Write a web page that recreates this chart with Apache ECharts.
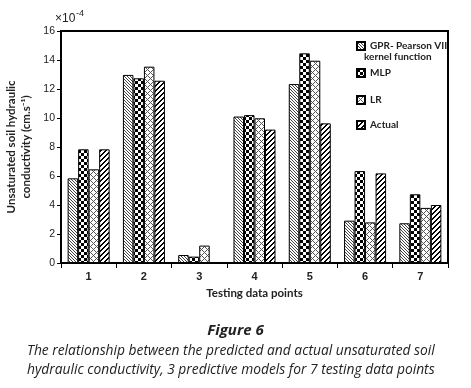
<!DOCTYPE html>
<html>
<head>
<meta charset="utf-8">
<script src="https://cdn.jsdelivr.net/npm/echarts@6/dist/echarts.min.js"></script>
<style>
  html, body { margin: 0; padding: 0; background: #fff; }
  #myChart { width: 471px; height: 388px; }
</style>
</head>
<body>
<div id="myChart"></div>
<script>
  // data (values x 10^-4 cm/s)
  var categories = ['1', '2', '3', '4', '5', '6', '7']
  var seriesNames = ['GPR- Pearson VII', 'MLP', 'LR', 'Actual']
  var gprValues = [5.84, 12.97, 0.55, 10.1, 12.34, 2.92, 2.74]
  var mlpValues = [7.84, 12.74, 0.44, 10.2, 14.46, 6.34, 4.74]
  var lrValues = [6.46, 13.54, 1.2, 9.98, 13.95, 2.8, 3.8]
  var actualValues = [7.84, 12.57, 0, 9.2, 9.63, 6.18, 4.0]
  var yTicks = [0, 2, 4, 6, 8, 10, 12, 14, 16]

  // small canvas tiles used as hatch fills
  function makeTile(size, fg, test) {
    var c = document.createElement('canvas')
    c.width = size
    c.height = size
    var ctx = c.getContext('2d')
    ctx.fillStyle = '#fff'
    ctx.fillRect(0, 0, size, size)
    ctx.fillStyle = fg
    for (var x = 0; x < size; x++) {
      for (var y = 0; y < size; y++) {
        if (test(x, y)) ctx.fillRect(x, y, 1, 1)
      }
    }
    return { image: c, repeat: 'repeat' }
  }

  var gprFill = makeTile(3, '#444', function(x, y) { return (x - y + 3) % 3 === 0 })
  var mlpFill = makeTile(6, '#000', function(x, y) { return (Math.floor(x / 3) + Math.floor(y / 3)) % 2 === 0 })
  var lrFill = makeTile(6, '#555', function(x, y) { return (x + y) % 6 === 0 || (x - y + 6) % 6 === 0 })
  var actualFill = makeTile(5, '#000', function(x, y) { return (x + y) % 5 < 2 })

  var fills = [gprFill, mlpFill, lrFill, actualFill]
  var allValues = [gprValues, mlpValues, lrValues, actualValues]
  var legendTops = [36, 63, 90, 115]

  var myChart = echarts.init(document.getElementById('myChart'))

  var series = seriesNames.map(function(name, i) {
    return {
      name: name,
      type: 'bar',
      data: allValues[i],
      barGap: '0%',
      barCategoryGap: '24%',
      itemStyle: {
        color: fills[i],
        borderColor: '#000',
        borderWidth: 1
      }
    }
  })

  var legends = seriesNames.map(function(name, i) {
    return {
      data: [name],
      left: 351,
      top: legendTops[i],
      itemWidth: 8,
      itemHeight: 8,
      itemGap: 3,
      icon: 'rect',
      textStyle: {
        fontFamily: 'Lato',
        fontWeight: 'bold',
        fontSize: 10,
        color: '#222'
      }
    }
  })

  var option = {
    animation: false,
    title: [{
      text: 'Figure 6',
      left: 'center',
      top: 318,
      textStyle: {
        fontFamily: 'Open Sans',
        fontStyle: 'italic',
        fontWeight: 'bold',
        fontSize: 15,
        color: '#222'
      }
    }, {
      text: 'The relationship between the predicted and actual unsaturated soil\nhydraulic conductivity, 3 predictive models for 7 testing data points',
      left: 22,
      top: 337,
      textStyle: {
        fontFamily: 'Open Sans',
        fontStyle: 'italic',
        fontWeight: 'normal',
        fontSize: 13.8,
        lineHeight: 19,
        color: '#222'
      }
    }],
    legend: legends,
    graphic: [{
      type: 'text',
      left: 364,
      top: 52,
      style: {
        text: 'kernel function',
        font: 'bold 10px Lato',
        fill: '#222'
      }
    }, {
      type: 'text',
      left: 55,
      top: 13,
      style: {
        text: '×10',
        font: '12px "Liberation Sans"',
        fill: '#222'
      }
    }, {
      type: 'text',
      left: 76,
      top: 9,
      style: {
        text: '-4',
        font: '9px "Liberation Sans"',
        fill: '#222'
      }
    }],
    grid: {
      left: 61,
      right: 23,
      top: 31,
      bottom: 125,
      outerBoundsMode: 'none',
      show: true,
      borderColor: '#000',
      borderWidth: 2
    },
    xAxis: {
      type: 'category',
      data: categories,
      name: 'Testing data points',
      nameLocation: 'middle',
      nameGap: 24,
      nameTextStyle: {
        fontFamily: 'Lato',
        fontWeight: 'bold',
        fontSize: 11.5,
        color: '#222'
      },
      axisLine: { lineStyle: { color: '#000', width: 2 } },
      axisTick: { show: true, length: 5, lineStyle: { color: '#000' } },
      axisLabel: {
        margin: 8,
        fontFamily: 'Liberation Sans',
        fontWeight: 'bold',
        fontSize: 11,
        color: '#222'
      }
    },
    yAxis: {
      type: 'value',
      min: yTicks[0],
      max: yTicks[yTicks.length - 1],
      interval: 2,
      name: 'Unsaturated soil hydraulic\nconductivity (cm.s⁻¹)',
      nameLocation: 'middle',
      nameGap: 27,
      nameMoveOverlap: false,
      nameTextStyle: {
        fontFamily: 'Lato',
        fontWeight: 'bold',
        fontSize: 11.5,
        lineHeight: 15,
        color: '#222'
      },
      splitLine: { show: false },
      axisLine: { show: true, lineStyle: { color: '#000', width: 2 } },
      axisTick: { show: true, length: 4, lineStyle: { color: '#000' } },
      axisLabel: {
        margin: 6,
        fontFamily: 'Liberation Sans',
        fontSize: 10.5,
        color: '#222'
      }
    },
    series: series
  }

  myChart.setOption(option)
</script>
</body>
</html>
